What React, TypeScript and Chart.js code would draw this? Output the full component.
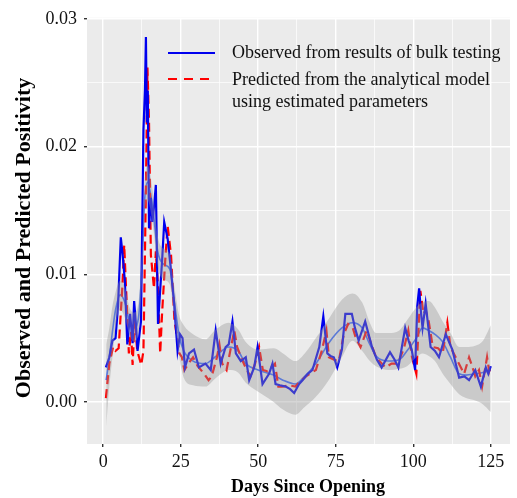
import React, { useEffect, useRef } from "react";
import { Chart, registerables } from "chart.js";

Chart.register(...registerables);

// Observed positivity (bulk testing)
const obsDays = [0.9, 2.0, 3.0, 4.0, 4.8, 5.7, 6.3, 7.0, 7.8, 8.7, 9.5, 10.0, 10.6, 11.1, 12.2, 13.0, 13.5, 13.8, 14.1, 14.4, 14.8, 15.4, 15.9, 16.5, 17.0, 17.7, 18.3, 19.0, 19.7, 20.8, 21.8, 22.9, 24.0, 24.8, 25.6, 26.4, 27.7, 29.3, 30.9, 33.0, 34.7, 36.3, 37.9, 39.5, 40.5, 41.7, 42.8, 44.4, 46.0, 47.1, 48.7, 49.8, 51.4, 53.5, 54.6, 55.6, 57.0, 58.9, 60.3, 61.6, 63.2, 64.3, 66.0, 67.5, 69.7, 71.0, 72.3, 73.3, 74.4, 75.5, 77.0, 78.1, 80.2, 81.2, 82.4, 84.5, 86.7, 88.3, 89.8, 92.5, 94.0, 95.2, 97.4, 98.5, 99.5, 100.6, 101.3, 101.9, 102.5, 103.0, 104.0, 105.6, 107.0, 108.3, 110.5, 112.6, 114.8, 116.5, 118.0, 120.0, 121.8, 123.4, 124.2, 125.0];
const obsVals = [0.0027, 0.0035, 0.0048, 0.005, 0.0075, 0.0129, 0.0115, 0.0095, 0.0045, 0.0069, 0.0046, 0.0079, 0.006, 0.004, 0.0063, 0.0213, 0.0245, 0.0286, 0.0219, 0.0244, 0.0136, 0.016, 0.0141, 0.0155, 0.017, 0.0061, 0.0084, 0.011, 0.0141, 0.0128, 0.0105, 0.0077, 0.004, 0.0053, 0.005, 0.0027, 0.0038, 0.0041, 0.0027, 0.003, 0.0025, 0.0056, 0.003, 0.0043, 0.0045, 0.0063, 0.0038, 0.0032, 0.0035, 0.0017, 0.0027, 0.0043, 0.0014, 0.0022, 0.003, 0.0014, 0.0013, 0.0012, 0.001, 0.0007, 0.0014, 0.0017, 0.0022, 0.0025, 0.0043, 0.0067, 0.0038, 0.0036, 0.0035, 0.0027, 0.0041, 0.0069, 0.0069, 0.0058, 0.0048, 0.0063, 0.0043, 0.0033, 0.0027, 0.0039, 0.0033, 0.0027, 0.0058, 0.0048, 0.0041, 0.0025, 0.0075, 0.0089, 0.007, 0.0058, 0.0077, 0.0043, 0.004, 0.0035, 0.0053, 0.0041, 0.0019, 0.002, 0.0017, 0.0025, 0.0012, 0.0027, 0.0022, 0.0028];

// Predicted positivity (analytical model)
const predDays = [0.9, 2.0, 3.2, 4.0, 5.0, 6.2, 6.8, 7.2, 8.3, 9.0, 9.5, 10.2, 11.0, 12.3, 13.0, 13.8, 14.3, 14.8, 15.4, 16.4, 17.0, 17.7, 18.4, 19.0, 20.0, 20.8, 21.9, 23.0, 24.6, 25.4, 26.2, 27.5, 29.0, 30.5, 32.6, 34.0, 35.0, 36.7, 37.5, 38.4, 39.8, 41.0, 42.3, 43.2, 45.0, 46.3, 47.5, 49.0, 50.3, 51.5, 53.0, 55.4, 56.5, 57.8, 60.0, 62.0, 63.5, 65.4, 68.6, 70.5, 72.0, 72.8, 74.5, 76.0, 77.6, 79.0, 80.5, 81.5, 83.0, 85.0, 86.5, 88.0, 91.0, 93.0, 95.0, 97.0, 98.4, 99.6, 101.0, 102.3, 103.3, 104.0, 105.0, 106.3, 108.0, 109.5, 111.0, 112.0, 114.3, 116.4, 118.0, 119.0, 120.0, 121.2, 122.2, 123.8, 124.5, 125.0];
const predVals = [0.0003, 0.003, 0.0043, 0.004, 0.0042, 0.009, 0.0123, 0.01, 0.0038, 0.0055, 0.0029, 0.0064, 0.004, 0.0029, 0.004, 0.0167, 0.0262, 0.0219, 0.0115, 0.0089, 0.0118, 0.0089, 0.0038, 0.0069, 0.011, 0.0138, 0.0115, 0.0064, 0.0038, 0.0035, 0.0025, 0.003, 0.0035, 0.0028, 0.0022, 0.0017, 0.002, 0.0035, 0.0045, 0.003, 0.0025, 0.004, 0.0056, 0.0043, 0.0032, 0.0025, 0.002, 0.003, 0.0043, 0.0025, 0.0024, 0.003, 0.0012, 0.0012, 0.0013, 0.0012, 0.0016, 0.002, 0.0025, 0.004, 0.0056, 0.0035, 0.0033, 0.0032, 0.0053, 0.0061, 0.0058, 0.005, 0.0043, 0.0056, 0.0045, 0.0035, 0.0027, 0.003, 0.003, 0.0042, 0.0056, 0.0035, 0.0022, 0.0087, 0.0069, 0.0072, 0.0063, 0.0043, 0.0042, 0.0038, 0.0062, 0.0043, 0.0032, 0.0022, 0.0035, 0.0028, 0.002, 0.0025, 0.0012, 0.0035, 0.0024, 0.0028];

// Smoothed trend with confidence band
const smoothDays = [1, 2, 3, 4, 5.5, 7, 8.5, 10, 11.5, 12.5, 13.3, 14.3, 16, 17.6, 19.5, 21.5, 23, 24.5, 26, 29, 33, 36, 40.5, 43.5, 46, 50, 55, 58, 62, 65, 68.6, 73, 77, 80.4, 83.5, 86, 88, 92, 95.5, 98, 101, 103, 105, 107, 109.5, 112, 114.8, 117, 120, 122.5, 125];
const smoothVals = [0.0017, 0.0035, 0.0055, 0.0072, 0.0084, 0.0078, 0.0063, 0.0058, 0.0068, 0.0105, 0.0155, 0.0172, 0.0152, 0.0118, 0.0108, 0.0104, 0.0078, 0.0052, 0.004, 0.0032, 0.003, 0.0035, 0.0043, 0.004, 0.003, 0.0025, 0.0021, 0.0017, 0.0014, 0.002, 0.003, 0.0047, 0.0058, 0.0062, 0.0058, 0.0045, 0.0036, 0.0032, 0.0033, 0.004, 0.005, 0.0058, 0.0056, 0.0053, 0.0047, 0.0035, 0.0022, 0.0021, 0.0022, 0.0023, 0.0025];
const bandLow = [-0.0019, 0.0012, 0.0035, 0.0058, 0.0072, 0.0066, 0.0052, 0.0047, 0.0056, 0.0093, 0.0142, 0.0158, 0.0139, 0.0106, 0.0096, 0.0092, 0.0065, 0.0036, 0.0019, 0.0013, 0.0012, 0.0018, 0.0025, 0.0023, 0.0015, 0.0008, 0.0, -0.0006, -0.001, -0.0004, 0.0004, 0.0018, 0.0035, 0.0048, 0.004, 0.0032, 0.0028, 0.0025, 0.0026, 0.0028, 0.0035, 0.0038, 0.0036, 0.0032, 0.0022, 0.0014, 0.0006, 0.0003, 0.0001, -0.0002, -0.0008];
const bandHigh = [0.0045, 0.0058, 0.0075, 0.0086, 0.0095, 0.009, 0.0074, 0.007, 0.008, 0.0118, 0.0168, 0.0186, 0.0165, 0.013, 0.012, 0.0116, 0.009, 0.0068, 0.006, 0.0053, 0.0049, 0.0056, 0.0062, 0.0057, 0.0047, 0.0041, 0.0042, 0.0038, 0.0032, 0.0038, 0.005, 0.0066, 0.008, 0.0085, 0.0078, 0.0062, 0.0054, 0.0054, 0.0056, 0.0064, 0.0074, 0.0078, 0.0079, 0.0074, 0.0063, 0.0054, 0.0043, 0.0043, 0.0044, 0.0048, 0.006];

const xTicks = [0, 12.5, 25, 37.5, 50, 62.5, 75, 87.5, 100, 112.5, 125];
const yTicks = [0, 0.005, 0.01, 0.015, 0.02, 0.025, 0.03];
const legendLabels = ["Observed from results of bulk testing", "Predicted from the analytical model", "using estimated parameters"];

const FONT = "'Liberation Serif', 'Times New Roman', serif";

const zip = (xs: number[], ys: number[]) => xs.map((x, i) => ({ x, y: ys[i] }));

const isMajorX = (v: number) => Math.abs(v % 25) < 1e-6;
const isMajorY = (v: number) => Math.abs(Math.round(v * 1000) % 10) < 1e-6;

const decorPlugin = {
  id: "decor",
  beforeDraw(chart: any) {
    const { ctx, chartArea: a, width, height } = chart;
    ctx.save();
    ctx.fillStyle = "#ffffff";
    ctx.fillRect(0, 0, width, height);
    ctx.fillStyle = "#EBEBEB";
    ctx.fillRect(a.left, a.top, a.right - a.left, a.bottom - a.top);
    ctx.restore();
  },
  afterDraw(chart: any) {
    const { ctx } = chart;
    ctx.save();
    // axis titles
    ctx.fillStyle = "#000000";
    ctx.textAlign = "center";
    ctx.textBaseline = "middle";
    ctx.font = `bold 18px ${FONT}`;
    ctx.fillText("Days Since Opening", 308, 487);
    ctx.translate(24, 238);
    ctx.rotate(-Math.PI / 2);
    ctx.font = `bold 22px ${FONT}`;
    ctx.fillText("Observed and Predicted Positivity", 0, 0);
    ctx.restore();

    // legend
    ctx.save();
    ctx.lineCap = "butt";
    ctx.strokeStyle = "#0000ee";
    ctx.lineWidth = 2.2;
    ctx.beginPath();
    ctx.moveTo(168, 53);
    ctx.lineTo(215, 53);
    ctx.stroke();
    ctx.strokeStyle = "#ff0000";
    ctx.setLineDash([9, 7]);
    ctx.beginPath();
    ctx.moveTo(168, 79);
    ctx.lineTo(216, 79);
    ctx.stroke();
    ctx.setLineDash([]);
    ctx.fillStyle = "#111111";
    ctx.font = `18px ${FONT}`;
    ctx.textAlign = "left";
    ctx.textBaseline = "middle";
    ctx.fillText(legendLabels[0], 232, 53);
    ctx.fillText(legendLabels[1], 232, 80);
    ctx.fillText(legendLabels[2], 232, 102);
    ctx.restore();
  },
};

export default function App() {
  const ref = useRef<HTMLCanvasElement | null>(null);

  useEffect(() => {
    document.body.style.margin = "0";
    if (!ref.current) return;
    const chart = new Chart(ref.current, {
      type: "line",
      data: {
        datasets: [
          {
            label: "lower",
            data: zip(smoothDays, bandLow),
            borderWidth: 0,
            pointRadius: 0,
            fill: false,
            tension: 0.4,
            cubicInterpolationMode: "monotone",
          },
          {
            label: "upper",
            data: zip(smoothDays, bandHigh),
            borderWidth: 0,
            pointRadius: 0,
            fill: "-1",
            backgroundColor: "rgba(153,153,153,0.4)",
            tension: 0.4,
            cubicInterpolationMode: "monotone",
          },
          {
            label: "Observed",
            data: zip(obsDays, obsVals),
            borderColor: "#0000ee",
            borderWidth: 2.2,
            pointRadius: 0,
            fill: false,
            tension: 0,
          },
          {
            label: "Predicted",
            data: zip(predDays, predVals),
            borderColor: "#ff0000",
            borderWidth: 2.2,
            borderDash: [9, 5],
            pointRadius: 0,
            fill: false,
            tension: 0,
          },
          {
            label: "Smooth",
            data: zip(smoothDays, smoothVals),
            borderColor: "#3366FF",
            borderWidth: 1.6,
            pointRadius: 0,
            fill: false,
            tension: 0.4,
            cubicInterpolationMode: "monotone",
          },
        ],
      },
      options: {
        animation: false,
        responsive: true,
        maintainAspectRatio: false,
        layout: { padding: { left: 0, right: 7, top: 14, bottom: 0 } },
        plugins: { legend: { display: false }, tooltip: { enabled: false } },
        scales: {
          x: {
            type: "linear",
            min: -5.2,
            max: 131.2,
            border: { display: false },
            afterBuildTicks: (scale: any) => {
              scale.ticks = xTicks.map((v) => ({ value: v }));
            },
            afterFit: (scale: any) => {
              scale.height = 54;
            },
            grid: {
              color: "#ffffff",
              lineWidth: (c: any) => (isMajorX(c.tick.value) ? 1.4 : 0.7),
              tickColor: (c: any) => (isMajorX(c.tick.value) ? "#333333" : "rgba(0,0,0,0)"),
              tickLength: 3,
            },
            ticks: {
              autoSkip: false,
              maxRotation: 0,
              padding: 4,
              color: "#111111",
              font: { family: FONT, size: 18 },
              callback: (v: any) => (isMajorX(Number(v)) ? String(v) : ""),
            },
          },
          y: {
            type: "linear",
            min: -0.0033,
            max: 0.0301,
            border: { display: false },
            afterBuildTicks: (scale: any) => {
              scale.ticks = yTicks.map((v) => ({ value: v }));
            },
            afterFit: (scale: any) => {
              scale.width = 87;
            },
            grid: {
              color: "#ffffff",
              lineWidth: (c: any) => (isMajorY(c.tick.value) ? 1.4 : 0.7),
              tickColor: (c: any) => (isMajorY(c.tick.value) ? "#333333" : "rgba(0,0,0,0)"),
              tickLength: 3,
            },
            ticks: {
              autoSkip: false,
              padding: 7,
              color: "#111111",
              font: { family: FONT, size: 18 },
              callback: (v: any) => (isMajorY(Number(v)) ? Number(v).toFixed(2) : ""),
            },
          },
        },
      },
      plugins: [decorPlugin],
    } as any);
    return () => chart.destroy();
  }, []);

  return (
    <div style={{ position: "absolute", left: 0, top: 0, width: 517, height: 498 }}>
      <canvas ref={ref} />
    </div>
  );
}
